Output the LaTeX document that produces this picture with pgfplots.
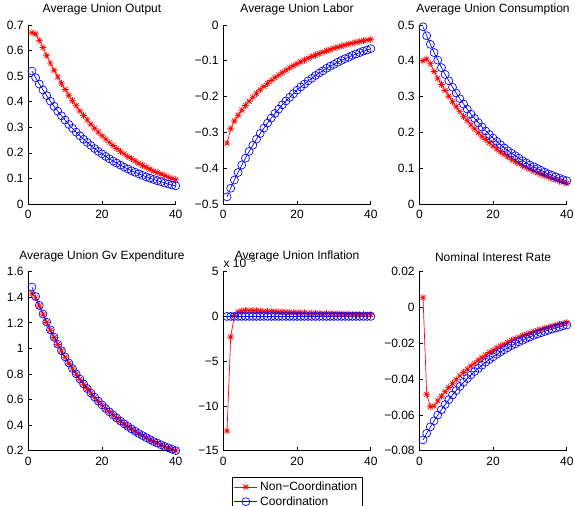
\documentclass[border=0pt]{standalone}
\usepackage{fontspec}
\setmainfont{Liberation Sans}
\usepackage{pgfplots}
\usepackage{pgfplotstable}
\pgfplotsset{compat=1.18}

\pgfdeclareplotmark{mstar}{%
  \pgfpathmoveto{\pgfqpoint{-\pgfplotmarksize}{0pt}}\pgfpathlineto{\pgfqpoint{\pgfplotmarksize}{0pt}}%
  \pgfpathmoveto{\pgfqpoint{0pt}{-\pgfplotmarksize}}\pgfpathlineto{\pgfqpoint{0pt}{\pgfplotmarksize}}%
  \pgfpathmoveto{\pgfqpoint{-0.707\pgfplotmarksize}{-0.707\pgfplotmarksize}}\pgfpathlineto{\pgfqpoint{0.707\pgfplotmarksize}{0.707\pgfplotmarksize}}%
  \pgfpathmoveto{\pgfqpoint{-0.707\pgfplotmarksize}{0.707\pgfplotmarksize}}\pgfpathlineto{\pgfqpoint{0.707\pgfplotmarksize}{-0.707\pgfplotmarksize}}%
  \pgfusepathqstroke}

\pgfplotstableread{
x nc c
1 0.670 0.520
2 0.665 0.494
3 0.640 0.469
4 0.612 0.446
5 0.580 0.424
6 0.551 0.402
7 0.523 0.382
8 0.497 0.363
9 0.472 0.345
10 0.448 0.328
11 0.425 0.311
12 0.404 0.296
13 0.384 0.281
14 0.364 0.267
15 0.346 0.253
16 0.329 0.241
17 0.312 0.229
18 0.296 0.217
19 0.281 0.206
20 0.267 0.196
21 0.254 0.186
22 0.241 0.177
23 0.229 0.168
24 0.217 0.160
25 0.206 0.152
26 0.196 0.144
27 0.186 0.137
28 0.177 0.130
29 0.168 0.124
30 0.159 0.118
31 0.151 0.112
32 0.144 0.106
33 0.136 0.101
34 0.129 0.096
35 0.123 0.091
36 0.117 0.087
37 0.111 0.082
38 0.105 0.078
39 0.100 0.074
40 0.095 0.071
}\tOutput

\pgfplotstableread{
x nc c
1 -0.330 -0.480
2 -0.290 -0.456
3 -0.268 -0.433
4 -0.252 -0.412
5 -0.238 -0.391
6 -0.225 -0.372
7 -0.213 -0.353
8 -0.202 -0.336
9 -0.191 -0.319
10 -0.181 -0.303
11 -0.172 -0.288
12 -0.163 -0.274
13 -0.155 -0.260
14 -0.147 -0.247
15 -0.140 -0.235
16 -0.133 -0.223
17 -0.126 -0.212
18 -0.120 -0.202
19 -0.114 -0.192
20 -0.108 -0.182
21 -0.103 -0.173
22 -0.098 -0.165
23 -0.093 -0.156
24 -0.088 -0.149
25 -0.084 -0.141
26 -0.080 -0.134
27 -0.076 -0.128
28 -0.072 -0.121
29 -0.069 -0.115
30 -0.065 -0.110
31 -0.062 -0.104
32 -0.059 -0.099
33 -0.056 -0.094
34 -0.053 -0.090
35 -0.051 -0.085
36 -0.048 -0.081
37 -0.046 -0.077
38 -0.044 -0.073
39 -0.042 -0.070
40 -0.040 -0.066
}\tLabor

\pgfplotstableread{
x nc c
1 0.400 0.495
2 0.405 0.470
3 0.392 0.446
4 0.370 0.423
5 0.351 0.402
6 0.334 0.381
7 0.317 0.362
8 0.301 0.344
9 0.286 0.326
10 0.272 0.310
11 0.258 0.294
12 0.245 0.279
13 0.233 0.265
14 0.221 0.251
15 0.210 0.239
16 0.199 0.227
17 0.189 0.215
18 0.180 0.204
19 0.171 0.194
20 0.162 0.184
21 0.154 0.175
22 0.146 0.166
23 0.139 0.157
24 0.132 0.149
25 0.125 0.142
26 0.119 0.135
27 0.113 0.128
28 0.107 0.121
29 0.102 0.115
30 0.097 0.109
31 0.092 0.104
32 0.087 0.099
33 0.083 0.094
34 0.079 0.089
35 0.075 0.084
36 0.071 0.080
37 0.068 0.076
38 0.064 0.072
39 0.061 0.068
40 0.058 0.065
}\tCons

\pgfplotstableread{
x nc c
1 1.430 1.480
2 1.395 1.406
3 1.332 1.336
4 1.266 1.269
5 1.202 1.205
6 1.142 1.145
7 1.085 1.088
8 1.031 1.033
9 0.980 0.982
10 0.931 0.933
11 0.884 0.886
12 0.840 0.842
13 0.798 0.800
14 0.758 0.760
15 0.720 0.722
16 0.684 0.686
17 0.650 0.651
18 0.617 0.619
19 0.587 0.588
20 0.557 0.558
21 0.529 0.530
22 0.503 0.504
23 0.478 0.479
24 0.454 0.455
25 0.431 0.432
26 0.409 0.410
27 0.389 0.390
28 0.369 0.370
29 0.351 0.352
30 0.333 0.334
31 0.317 0.318
32 0.301 0.302
33 0.286 0.287
34 0.272 0.272
35 0.258 0.259
36 0.245 0.246
37 0.233 0.233
38 0.221 0.222
39 0.210 0.211
40 0.200 0.200
}\tGov

\pgfplotstableread{
x nc c
1 -12.8 0
2 -2.3 0
3 0.10 0
4 0.50 0
5 0.60 0
6 0.65 0
7 0.65 0
8 0.65 0
9 0.62 0
10 0.60 0
11 0.58 0
12 0.56 0
13 0.54 0
14 0.52 0
15 0.50 0
16 0.48 0
17 0.47 0
18 0.45 0
19 0.43 0
20 0.42 0
21 0.40 0
22 0.39 0
23 0.37 0
24 0.36 0
25 0.35 0
26 0.33 0
27 0.32 0
28 0.31 0
29 0.30 0
30 0.29 0
31 0.28 0
32 0.27 0
33 0.26 0
34 0.25 0
35 0.24 0
36 0.23 0
37 0.22 0
38 0.21 0
39 0.20 0
40 0.20 0
}\tInfl

\pgfplotstableread{
x nc c
1 0.0055 -0.0740
2 -0.0485 -0.0703
3 -0.0555 -0.0667
4 -0.0550 -0.0633
5 -0.0522 -0.0601
6 -0.0496 -0.0571
7 -0.0471 -0.0542
8 -0.0447 -0.0515
9 -0.0424 -0.0489
10 -0.0403 -0.0464
11 -0.0382 -0.0441
12 -0.0363 -0.0418
13 -0.0345 -0.0397
14 -0.0327 -0.0377
15 -0.0311 -0.0358
16 -0.0295 -0.0340
17 -0.0280 -0.0323
18 -0.0266 -0.0306
19 -0.0252 -0.0291
20 -0.0240 -0.0276
21 -0.0227 -0.0262
22 -0.0216 -0.0249
23 -0.0205 -0.0237
24 -0.0195 -0.0225
25 -0.0185 -0.0213
26 -0.0175 -0.0203
27 -0.0167 -0.0192
28 -0.0158 -0.0183
29 -0.0150 -0.0173
30 -0.0143 -0.0165
31 -0.0135 -0.0156
32 -0.0128 -0.0148
33 -0.0122 -0.0141
34 -0.0116 -0.0134
35 -0.0110 -0.0127
36 -0.0104 -0.0121
37 -0.0099 -0.0115
38 -0.0094 -0.0109
39 -0.0089 -0.0103
40 -0.0085 -0.0098
}\tRate

\pgfplotsset{
  mat/.style={
    scale only axis, width=110.6pt, height=134.25pt, anchor=south west,
    xmin=0, xmax=40, xtick={0,20,40},
    scaled y ticks=false, scaled x ticks=false,
    axis lines=left, axis line style={-, line width=0.5pt},
    tick align=inside, major tick length=2.5pt,
    tick style={black, line width=0.5pt},
    clip=false,
    ticklabel style={font=\fontsize{9}{10}\selectfont},
    xticklabel style={yshift=-1pt},
    /pgf/number format/assume math mode=true,
    title style={font=\fontsize{9}{10}\selectfont, yshift=-2pt},
  },
  nc/.style={red, line width=0.5pt, mark=mstar, mark size=2.6pt, mark options={solid}},
  co/.style={blue, line width=0.5pt, mark=o, mark size=3pt, mark options={solid}},
}

\begin{document}
\begin{tikzpicture}
\useasboundingbox (0,0) rectangle (431.25pt,-379.5pt);

\begin{axis}[mat, at={(21.2pt,-153pt)}, title={Average Union Output},
  ymin=0, ymax=0.7, ytick={0,0.1,0.2,0.3,0.4,0.5,0.6,0.7},
  yticklabels={0,0.1,0.2,0.3,0.4,0.5,0.6,0.7}]
\addplot[nc] table[x=x,y=nc] {\tOutput};
\addplot[co] table[x=x,y=c] {\tOutput};
\end{axis}

\begin{axis}[mat, at={(167.5pt,-153pt)}, title={Average Union Labor},
  ymin=-0.5, ymax=0, ytick={-0.5,-0.4,-0.3,-0.2,-0.1,0},
  yticklabels={−0.5,−0.4,−0.3,−0.2,−0.1,0}]
\addplot[nc] table[x=x,y=nc] {\tLabor};
\addplot[co] table[x=x,y=c] {\tLabor};
\end{axis}

\begin{axis}[mat, at={(314.5pt,-153pt)}, title={Average Union Consumption},
  ymin=0, ymax=0.5, ytick={0,0.1,0.2,0.3,0.4,0.5},
  yticklabels={0,0.1,0.2,0.3,0.4,0.5}]
\addplot[nc] table[x=x,y=nc] {\tCons};
\addplot[co] table[x=x,y=c] {\tCons};
\end{axis}

\begin{axis}[mat, at={(21.2pt,-338pt)}, title={Average Union Gv Expenditure},
  ymin=0.2, ymax=1.6, ytick={0.2,0.4,0.6,0.8,1,1.2,1.4,1.6},
  yticklabels={0.2,0.4,0.6,0.8,1,1.2,1.4,1.6}]
\addplot[nc] table[x=x,y=nc] {\tGov};
\addplot[co] table[x=x,y=c] {\tGov};
\end{axis}

\begin{axis}[mat, at={(167.5pt,-338pt)}, title={Average Union Inflation},
  ymin=-15, ymax=5, ytick={-15,-10,-5,0,5},
  yticklabels={−15,−10,−5,0,5},
  legend style={at={(0.5,-0.145)}, anchor=north, draw=black, line width=0.5pt,
    font=\fontsize{9}{10}\selectfont, cells={anchor=west},
    inner sep=1.5pt, row sep=-1pt, legend cell align=left},
  legend image post style={line width=0.5pt}]
\addplot[nc] table[x=x,y=nc] {\tInfl};
\addplot[co] table[x=x,y=c] {\tInfl};
\legend{Non−Coordination,Coordination}
\node[anchor=south west, inner sep=0pt, font=\fontsize{9}{10}\selectfont] at (rel axis cs:0,1.02) {x 10\textsuperscript{−3}};
\end{axis}

\begin{axis}[mat, at={(314.5pt,-338pt)}, title={Nominal Interest Rate},
  ymin=-0.08, ymax=0.02, ytick={-0.08,-0.06,-0.04,-0.02,0,0.02},
  yticklabels={−0.08,−0.06,−0.04,−0.02,0,0.02}]
\addplot[nc] table[x=x,y=nc] {\tRate};
\addplot[co] table[x=x,y=c] {\tRate};
\end{axis}
\end{tikzpicture}
\end{document}
